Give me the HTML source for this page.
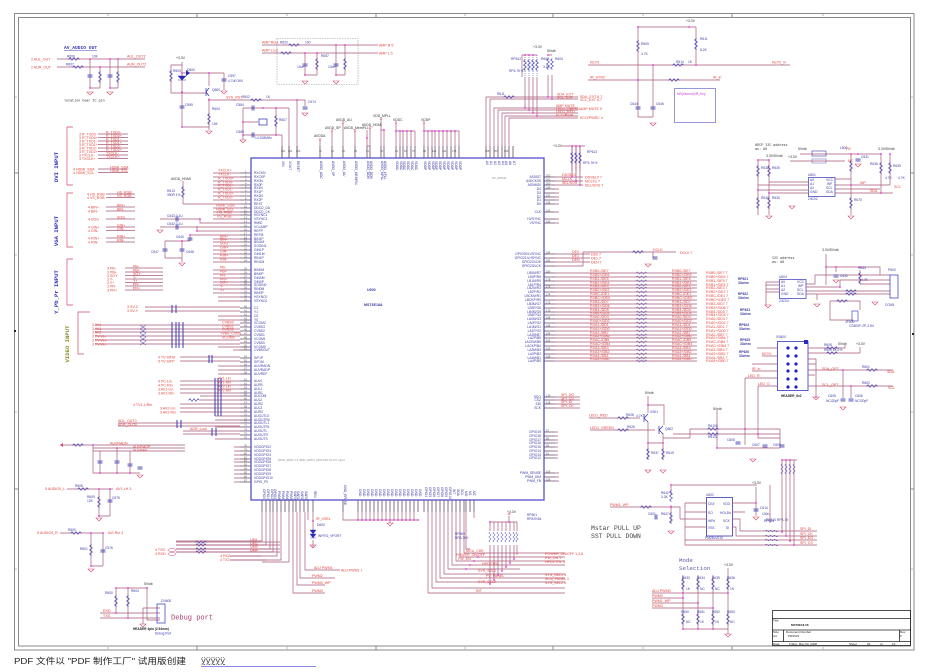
<!DOCTYPE html>
<html><head><meta charset="utf-8">
<style>
html,body{margin:0;padding:0;background:#fff;width:950px;height:672px;overflow:hidden}
svg{display:block}
text{font-family:"Liberation Sans",sans-serif}
.w{stroke:#a8587a;fill:none;stroke-width:.7}
.pn{stroke:#6a4a6a;fill:none;stroke-width:.8}
.bx{stroke:#4c4cc4;fill:none;stroke-width:.9}
.r{fill:#e4443c;font-size:3.6px}
.t{fill:#3a3aa8;font-size:3.3px}
.k{fill:#333;font-size:3.4px}
.n{fill:#555;font-size:2.6px}
.dt{stroke:#e030e0;stroke-width:1.8;stroke-linecap:round;fill:none}
.g{stroke:#d24a6a;fill:none;stroke-width:.6}
.m{font-family:"Liberation Mono",monospace}
</style></head><body>
<svg width="950" height="672" viewBox="0 0 950 672" xmlns="http://www.w3.org/2000/svg">
<defs>
<path id="rh" d="M0,0h1l1,-1.4l2,2.8l2,-2.8l2,2.8l2,-2.8l1,1.4h1" fill="none" stroke="#3a3ab0" stroke-width=".6"/>
<path id="rv" d="M0,0v1l-1.4,1l2.8,2l-2.8,2l2.8,2l-2.8,2l1.4,1v1" fill="none" stroke="#3a3ab0" stroke-width=".6"/>
<path id="gd" d="M-3,0h6l-3,3z" fill="none" stroke="#d24a6a" stroke-width=".6"/>
<path id="cv" d="M-2.5,-.9h5M-2.5,.9h5" fill="none" stroke="#3a3ab0" stroke-width=".9"/>
<path id="ch" d="M-.9,-2.5v5M.9,-2.5v5" fill="none" stroke="#3a3ab0" stroke-width=".9"/>
</defs>

<!-- frame -->
<g fill="none" stroke="#8a8a8a" stroke-width="1">
<rect x="14.5" y="13.5" width="899.5" height="636.5"/>
<rect x="18.5" y="17.5" width="892" height="628.5"/>
<path d="M197,13v4M376,13v4M553,13v4M732,13v4M197,646v4M376,646v4M553,646v4M732,646v4M14,173h4M14,489h4M910,173h4M910,489h4"/>
<path d="M108,14v2M287,14v2M465,14v2M643,14v2M823,14v2M108,647v2M287,647v2M465,647v2M643,647v2M823,647v2M15,97h2M15,255h2M15,412h2M15,569h2M911,97h2M911,255h2M911,412h2M911,569h2" stroke-width=".6"/>
</g>
<rect x="14" y="330" width="2" height="2" fill="#222"/><rect x="912" y="333" width="2" height="2" fill="#222"/>

<!-- ===== AV AUDIO OUT ===== -->
<text x="64" y="49" fill="#3434b4" font-size="4.6" font-weight="bold" class="m" text-decoration="underline">AV_AUDIO OUT</text>
<text class="r" x="31" y="60.5">2 AUL_OUT</text><text class="r" x="31" y="68.5">2 AUR_OUT</text>
<path class="w" d="M57,59H145M57,67H145M90,59V88M110,59V88M100,67V88M118,59V88M90,88H100M110,88H118"/>
<use href="#rh" x="68" y="59"/><use href="#rh" x="72" y="67"/>
<use href="#cv" x="90" y="76"/><use href="#cv" x="110" y="76"/>
<use href="#rv" x="100" y="71"/><use href="#rv" x="118" y="71"/>
<use href="#gd" x="90" y="92"/><use href="#gd" x="110" y="92"/>
<path class="dt" d="M90,59h0M110,59h0M118,59h0M100,67h0M90,88h0M110,88h0"/>
<text class="r" x="127" y="57.5">AUL_OUT2</text><text class="r" x="127" y="65.5">AUR_OUT2</text>
<text class="t" x="67" y="57.5">R606</text><text class="t" x="66" y="65.5">R607</text><text class="t" x="92" y="57.5">10K</text>
<text class="k m" x="64" y="101.5">location near IC pin</text>

<!-- ===== reset circuit ===== -->
<text class="k" x="176" y="59">+3.3V</text>
<path class="w" d="M182,62V127H209M171,65H182M171,65V93H206M182,73H224M209,73V86M209,98V130M224,73V90M209,100H305V106M297,100V158M182,90V100"/>
<use href="#rv" x="171" y="70"/><use href="#rv" x="209" y="113"/>
<path d="M178,76h8l-4,4zM178,80h8" fill="#2a2ab0" stroke="#2a2ab0" stroke-width=".5"/>
<path d="M186,70l4,3l-4,3z" fill="#2a2ab0"/>
<path d="M206,88v8M206,92l3,-4M206,92l3,4" stroke="#2a2ab0" stroke-width=".7" fill="none"/>
<use href="#cv" x="182" y="107"/><use href="#cv" x="224" y="80"/><use href="#cv" x="305" y="108"/>
<use href="#gd" x="209" y="131"/><use href="#gd" x="224" y="91"/><use href="#gd" x="305" y="113"/>
<use href="#rh" x="250" y="100"/>
<path class="dt" d="M182,73h0M209,73h0M182,92h0M209,100h0M297,100h0M182,127h0"/>
<text class="r" x="226" y="98.5">SYS_RST</text><text class="t" x="242" y="98">R602</text><text class="t" x="266" y="98">1K</text>
<text class="t" x="187" y="71">D600</text><text class="t" x="228" y="77">C597</text><text class="t" x="228" y="82">4.7uF/16V</text>
<text class="t" x="173" y="72">R603</text><text class="t" x="185" y="106">C599</text><text class="t" x="212" y="110">R604</text><text class="t" x="212" y="125">10K</text>
<text class="t" x="212" y="91">Q600</text><text class="t" x="308" y="103">C574</text>
<!-- crystal -->
<path class="w" d="M243,108V140M243,108H276M243,135H282M276,108V135M282,135V158M289,108V158M276,108H289M243,122H258"/>
<use href="#ch" x="253" y="108"/><use href="#ch" x="253" y="135"/>
<rect x="259" y="119" width="8" height="6" fill="none" stroke="#2a2ab0" stroke-width=".7"/>
<use href="#rv" x="276" y="115"/><use href="#gd" x="243" y="140"/>
<path class="dt" d="M243,122h0M263,108h0M276,108h0M276,135h0M243,135h0"/>
<text class="t" x="236" y="106">C584</text><text class="t" x="236" y="133">C585</text><text class="t" x="279" y="121">R607</text><text class="t" x="255" y="139">14.318MHz</text>

<!-- ===== AMP dashed box ===== -->
<rect x="277" y="38.5" width="81" height="46" fill="none" stroke="#999" stroke-width=".6" stroke-dasharray="1.5,1"/>
<path class="w" d="M262,45H378M262,53H378M305,53V75M336,45V75M317,53V75M345,45V75M305,75H317M336,75H345"/>
<use href="#rh" x="288" y="45"/><use href="#rh" x="280" y="53"/>
<use href="#cv" x="305" y="65"/><use href="#cv" x="336" y="65"/><use href="#rv" x="317" y="58"/><use href="#rv" x="345" y="58"/>
<use href="#gd" x="305" y="81"/><use href="#gd" x="336" y="81"/>
<path class="dt" d="M305,53h0M317,53h0M336,45h0M345,45h0M305,75h0M336,75h0"/>
<text class="r" x="262" y="43.5">AMP Rout</text><text class="r" x="262" y="51.5">AMP Lout</text>
<text class="r" x="379" y="46.5">AMP R 5</text><text class="r" x="379" y="54.5">AMP L 5</text>
<text class="t" x="280" y="43.5">R620</text><text class="t" x="305" y="43.5">100</text><text class="t" x="321" y="57">R657</text><text class="t" x="297" y="68">10uF</text><text class="t" x="328" y="68">10uF</text>

<!-- ===== input brackets + vertical titles ===== -->
<path fill="none" stroke="#d24a6a" stroke-width=".7" d="M73,127H67V185H73M73,193H67V247H73M73,259H67V305H73M90,312H78V354H84"/>
<text transform="translate(58,167) rotate(-90)" text-anchor="middle" font-size="5.6" font-weight="bold" fill="#3434b4" class="m">DVI INPUT</text>
<text transform="translate(58,231) rotate(-90)" text-anchor="middle" font-size="5.6" font-weight="bold" fill="#3434b4" class="m">VGA INPUT</text>
<text transform="translate(58,292) rotate(-90)" text-anchor="middle" font-size="5.6" font-weight="bold" fill="#3434b4" class="m">Y_Pb_Pr INPUT</text>
<text transform="translate(69,344) rotate(-90)" text-anchor="middle" font-size="5.6" font-weight="bold" fill="#8c8c28" class="m">VIDEO INPUT</text>

<!-- DVI lines -->
<path class="w" d="M98,134H128M98,137.5H128M98,141H128M98,144.5H128M98,148H128M98,151.5H128M98,155H128M98,158.5H128M98,169H128M98,172.5H128"/>
<g class="r"><text x="79" y="135.5">3 R_TXD0-</text><text x="79" y="139">3 R_TXD0+</text><text x="79" y="142.5">3 R_TXD1-</text><text x="79" y="146">3 R_TXD1+</text><text x="79" y="149.5">3 R_TXD2-</text><text x="79" y="153">3 R_TXD2+</text><text x="79" y="156.5">3 TXCLK-</text><text x="79" y="160">3 TXCLK+</text><text x="73" y="170.5">4 HDMI_SDA</text><text x="73" y="174">4 HDMI_SCL</text>
<text x="106" y="133.5">R_TXD0-</text><text x="106" y="137">R_TXD0+</text><text x="106" y="140.5">R_TXD1-</text><text x="106" y="144">R_TXD1+</text><text x="106" y="147.5">R_TXD2-</text><text x="106" y="151">R_TXD2+</text><text x="106" y="154.5">TXCLK-</text><text x="106" y="158">TXCLK+</text><text x="110" y="168.5">HDMI_SDA</text><text x="110" y="172">HDMI_SCL</text></g>
<!-- VGA lines -->
<path class="w" d="M106,194H135M106,197.5H135M106,207H135M106,211H135M106,219H135M106,227H135M106,230.5H135M106,238H135M106,242H135"/>
<g class="r"><text x="87" y="195.5">4 HS_RGB</text><text x="87" y="199">4 VS_RGB</text><text x="88" y="208.5">4 BIN+</text><text x="88" y="212.5">4 BIN-</text><text x="88" y="220.5">4 SOG</text><text x="88" y="228.5">4 GIN+</text><text x="88" y="232">4 GIN-</text><text x="88" y="239.5">4 RIN+</text><text x="88" y="243.5">4 RIN-</text>
<text x="117" y="193.5">HS_RGB</text><text x="117" y="197">VS_RGB</text><text x="117" y="206.5">BIN+</text><text x="117" y="210.5">BIN-</text><text x="117" y="218.5">SOG</text><text x="117" y="226.5">GIN+</text><text x="117" y="230">GIN-</text><text x="117" y="237.5">RIN+</text><text x="117" y="241.5">RIN-</text></g>
<!-- YPbPr lines -->
<path class="w" d="M125,268H163M125,272H163M125,275.5H163M125,279H163M125,282.5H163M125,286H163M125,290H163"/>
<g class="r"><text x="107" y="269.5">3 PB-</text><text x="107" y="273.5">3 PB+</text><text x="107" y="277">3 SOY</text><text x="107" y="280.5">3 Y-</text><text x="107" y="284">3 Y+</text><text x="107" y="287.5">3 PR-</text><text x="107" y="291.5">3 PR+</text>
<text x="133" y="267.5">PB-</text><text x="133" y="271.5">PB+</text><text x="133" y="275">SOY</text><text x="133" y="278.5">Y-</text><text x="133" y="282">Y+</text><text x="133" y="285.5">PR-</text><text x="133" y="289.5">PR+</text></g>

<!-- ===== Main IC ===== -->
<rect x="251" y="158" width="293" height="342" fill="none" stroke="#5050c8" stroke-width="1.3"/>
<text x="367" y="291" font-size="3.6" font-weight="bold" fill="#3a3aa8">U600</text>
<text x="364" y="306" font-size="3.6" font-weight="bold" fill="#3a3aa8">MST6E18A</text>
<text x="278" y="461" font-size="3" fill="#888">GPIO_DDC-Y1,VDD_GPIO_DDC=5V for IIC input</text>

<!-- left pin stubs -->
<path class="pn" d="M240,173h11M240,177h11M240,181h11M240,185h11M240,188h11M240,192h11M240,196h11M240,200h11M240,204h11M240,208h11M240,212h11M240,215h11M240,219h11M240,223h11M240,227h11M240,231h11M240,235h11M240,239h11M240,242h11M240,246h11M240,250h11M240,254h11M240,258h11M240,262h11M240,270h11M240,274h11M240,278h11M240,282h11M240,285h11M240,289h11M240,293h11M240,297h11M240,301h11M240,308h11M240,312h11M240,316h11M240,320h11M240,323h11M240,327h11M240,331h11M240,335h11M240,339h11M240,343h11M240,347h11M240,350h11M240,358h11M240,362h11M240,366h11M240,370h11M240,374h11M240,381h11M240,385h11M240,389h11M240,393h11M240,396h11M240,400h11M240,404h11M240,408h11M240,412h11M240,416h11M240,420h11M240,423h11M240,427h11M240,431h11M240,435h11M240,439h11M240,447h11M240,451h11M240,455h11M240,459h11M240,462h11M240,466h11M240,470h11M240,474h11M240,478h11M240,482h11"/>
<text class="n"><tspan x="245" y="172.3">1</tspan><tspan x="245" y="176.3">2</tspan><tspan x="245" y="180.3">3</tspan><tspan x="245" y="184.3">4</tspan><tspan x="245" y="187.3">5</tspan><tspan x="245" y="191.3">6</tspan><tspan x="245" y="195.3">7</tspan><tspan x="245" y="199.3">8</tspan><tspan x="245" y="203.3">9</tspan><tspan x="244" y="207.3">10</tspan><tspan x="244" y="211.3">11</tspan><tspan x="244" y="214.3">12</tspan><tspan x="244" y="218.3">13</tspan><tspan x="244" y="222.3">14</tspan><tspan x="244" y="226.3">15</tspan><tspan x="244" y="230.3">16</tspan><tspan x="244" y="234.3">17</tspan><tspan x="244" y="238.3">18</tspan><tspan x="244" y="241.3">19</tspan><tspan x="244" y="245.3">20</tspan><tspan x="244" y="249.3">21</tspan><tspan x="244" y="253.3">22</tspan><tspan x="244" y="257.3">23</tspan><tspan x="244" y="261.3">24</tspan><tspan x="244" y="269.3">25</tspan><tspan x="244" y="273.3">26</tspan><tspan x="244" y="277.3">27</tspan><tspan x="244" y="281.3">28</tspan><tspan x="244" y="284.3">29</tspan><tspan x="244" y="288.3">30</tspan><tspan x="244" y="292.3">31</tspan><tspan x="244" y="296.3">32</tspan><tspan x="244" y="300.3">33</tspan><tspan x="244" y="307.3">40</tspan><tspan x="244" y="311.3">41</tspan><tspan x="244" y="315.3">42</tspan><tspan x="244" y="319.3">43</tspan><tspan x="244" y="322.3">44</tspan><tspan x="244" y="326.3">45</tspan><tspan x="244" y="330.3">46</tspan><tspan x="244" y="334.3">47</tspan><tspan x="244" y="338.3">48</tspan><tspan x="244" y="342.3">49</tspan><tspan x="244" y="346.3">50</tspan><tspan x="244" y="349.3">51</tspan><tspan x="244" y="357.3">54</tspan><tspan x="244" y="361.3">55</tspan><tspan x="244" y="365.3">56</tspan><tspan x="244" y="369.3">57</tspan><tspan x="244" y="373.3">58</tspan><tspan x="244" y="380.3">61</tspan><tspan x="244" y="384.3">62</tspan><tspan x="244" y="388.3">63</tspan><tspan x="244" y="392.3">64</tspan><tspan x="244" y="395.3">65</tspan><tspan x="244" y="399.3">66</tspan><tspan x="244" y="403.3">67</tspan><tspan x="244" y="407.3">68</tspan><tspan x="244" y="411.3">69</tspan><tspan x="244" y="415.3">70</tspan><tspan x="244" y="419.3">71</tspan><tspan x="244" y="422.3">72</tspan><tspan x="244" y="426.3">73</tspan><tspan x="244" y="430.3">74</tspan><tspan x="244" y="434.3">75</tspan><tspan x="244" y="438.3">76</tspan><tspan x="244" y="446.3">78</tspan><tspan x="244" y="450.3">79</tspan><tspan x="244" y="454.3">80</tspan><tspan x="244" y="458.3">81</tspan><tspan x="244" y="461.3">82</tspan><tspan x="244" y="465.3">83</tspan><tspan x="244" y="469.3">84</tspan><tspan x="244" y="473.3">85</tspan><tspan x="244" y="477.3">86</tspan><tspan x="244" y="481.3">87</tspan></text>
<text class="t"><tspan x="254" y="174.2">RXCKN</tspan><tspan x="254" y="178.2">RXCKP</tspan><tspan x="254" y="182.2">RX0N</tspan><tspan x="254" y="186.2">RX0P</tspan><tspan x="254" y="189.2">RX1N</tspan><tspan x="254" y="193.2">RX1P</tspan><tspan x="254" y="197.2">RX2N</tspan><tspan x="254" y="201.2">RX2P</tspan><tspan x="254" y="205.2">REXT</tspan><tspan x="254" y="209.2">DDCD_DA</tspan><tspan x="254" y="213.2">DDCD_CK</tspan><tspan x="254" y="216.2">HSYNC1</tspan><tspan x="254" y="220.2">VSYNC1</tspan><tspan x="254" y="224.2">RMID</tspan><tspan x="254" y="228.2">VCLAMP</tspan><tspan x="254" y="232.2">REFP</tspan><tspan x="254" y="236.2">REFM</tspan><tspan x="254" y="240.2">BIN1P</tspan><tspan x="254" y="243.2">BIN1M</tspan><tspan x="254" y="247.2">SOGIN1</tspan><tspan x="254" y="251.2">GIN1P</tspan><tspan x="254" y="255.2">GIN1M</tspan><tspan x="254" y="259.2">RIN1P</tspan><tspan x="254" y="263.2">RIN1M</tspan><tspan x="254" y="271.2">BIN0M</tspan><tspan x="254" y="275.2">BIN0P</tspan><tspan x="254" y="279.2">GIN0M</tspan><tspan x="254" y="283.2">GIN0P</tspan><tspan x="254" y="286.2">SOGIN0</tspan><tspan x="254" y="290.2">RIN0M</tspan><tspan x="254" y="294.2">RIN0P</tspan><tspan x="254" y="298.2">HSYNC0</tspan><tspan x="254" y="302.2">VSYNC0</tspan><tspan x="254" y="309.2">C1</tspan><tspan x="254" y="313.2">Y1</tspan><tspan x="254" y="317.2">C0</tspan><tspan x="254" y="321.2">Y0</tspan><tspan x="254" y="324.2">VCOM2</tspan><tspan x="254" y="328.2">CVBS3</tspan><tspan x="254" y="332.2">CVBS2</tspan><tspan x="254" y="336.2">CVBS1</tspan><tspan x="254" y="340.2">VCOM1</tspan><tspan x="254" y="344.2">CVBS0</tspan><tspan x="254" y="348.2">VCOM0</tspan><tspan x="254" y="351.2">CVBSOUT</tspan><tspan x="254" y="359.2">SIF1P</tspan><tspan x="254" y="363.2">SIF1M</tspan><tspan x="254" y="367.2">AUVRADN</tspan><tspan x="254" y="371.2">AUVRADP</tspan><tspan x="254" y="375.2">AUVREF</tspan><tspan x="254" y="382.2">AUL0</tspan><tspan x="254" y="386.2">AUR0</tspan><tspan x="254" y="390.2">AUL1</tspan><tspan x="254" y="394.2">AUR1</tspan><tspan x="254" y="397.2">AUCOM</tspan><tspan x="254" y="401.2">AUL2</tspan><tspan x="254" y="405.2">AUR2</tspan><tspan x="254" y="409.2">AUL3</tspan><tspan x="254" y="413.2">AUR3</tspan><tspan x="254" y="417.2">AUOUTL0</tspan><tspan x="254" y="421.2">AUOUTR0</tspan><tspan x="254" y="424.2">AUOUTL1</tspan><tspan x="254" y="428.2">AUOUTR1</tspan><tspan x="254" y="432.2">AUOUTL</tspan><tspan x="254" y="436.2">AUOUTR</tspan><tspan x="254" y="440.2">AUOUTS</tspan><tspan x="254" y="448.2">VDDGPIO2</tspan><tspan x="254" y="452.2">VDDGPIO3</tspan><tspan x="254" y="456.2">VDDGPIO4</tspan><tspan x="254" y="460.2">VDDGPIO5</tspan><tspan x="254" y="463.2">VDDGPIO6</tspan><tspan x="254" y="467.2">VDDGPIO7</tspan><tspan x="254" y="471.2">VDDGPIO8</tspan><tspan x="254" y="475.2">VDDGPIO9</tspan><tspan x="254" y="479.2">VDDGPIO10</tspan><tspan x="254" y="483.2">GPIO_P0</tspan></text>

<!-- left wires -->
<path class="w" d="M213,173H240M213,177H240M213,181H240M213,185H240M213,188H240M213,192H240M213,196H240M213,200H240M183,204H240M183,204V181M213,208H240M213,212H240M213,215H240M213,219H240M160,219H200V223H240M160,227H240M197,231H240M190,235H240M190,235V241M197,231V226M165,241H190M165,241V258M182,241V262M165,258H182M213,239H240M213,242H240M213,246H240M213,250H240M213,254H240M213,258H240M213,262H240
M213,270H240M213,274H240M213,278H240M213,282H240M213,285H240M213,289H240M213,293H240M218,297H240M218,301H240
M145,307H240M145,311H240M218,316H240M218,320H240M95,325H240M95,329H240M95,332H240M95,336H240M95,340H240M95,344H240M218,347H240M233,350H240
M180,357H240M180,361H240M218,366H240M218,370H240M218,374H240
M180,381H240M180,385H240M180,389H240M180,393H240M200,396H240M180,404H240M180,408H240M180,412H240M200,400H240M215,416H240M118,423H240M118,426H240M183,431H240M183,434H240M215,420H240M215,427H240M215,439H240"/>
<path class="w" d="M234,447h6M234,451h6M234,455h6M234,459h6M234,462h6M234,466h6M234,470h6M234,474h6M234,478h6M234,482h6"/>
<use href="#rv" x="183" y="186"/><text class="k" x="171" y="180">AVDD_HDMI</text><text class="t" x="167" y="192">R613</text><text class="t" x="167" y="196">390R 1%</text>
<use href="#ch" x="177" y="219"/><use href="#ch" x="177" y="227"/><use href="#cv" x="190" y="239"/><use href="#cv" x="165" y="250"/><use href="#cv" x="182" y="250"/>
<use href="#gd" x="160" y="230"/><use href="#gd" x="182" y="263"/>
<text class="t" x="167" y="217">C643 0.1U</text><text class="t" x="167" y="225">C642 0.1U</text><text class="t" x="176" y="238">C640</text><text class="t" x="151" y="253">C647</text><text class="t" x="186" y="253">C648</text>
<path class="dt" d="M200,219h0M197,231h0M190,235h0M182,241h0"/>
<g class="r"><text x="218" y="171.5">TXCLK+</text><text x="218" y="175.5">TXCLK-</text><text x="218" y="179.5">R_TXD0+</text><text x="218" y="183.5">R_TXD0-</text><text x="218" y="186.5">R_TXD1+</text><text x="218" y="190.5">R_TXD1-</text><text x="218" y="194.5">R_TXD2+</text><text x="218" y="198.5">R_TXD2-</text><text x="216" y="206.5">HDMI_SDA</text><text x="216" y="210.5">HDMI_SCL</text><text x="217" y="213.5">HS_RGB</text><text x="217" y="217.5">VS_RGB</text><text x="220" y="237.5">BIN+</text><text x="220" y="240.5">BIN-</text><text x="220" y="244.5">SOG</text><text x="220" y="248.5">GIN+</text><text x="220" y="252.5">GIN-</text><text x="220" y="256.5">RIN+</text><text x="220" y="260.5">RIN-</text>
<text x="220" y="268.5">PB-</text><text x="220" y="272.5">PB+</text><text x="220" y="276.5">PR-</text><text x="220" y="280.5">PR+</text><text x="220" y="283.5">SOY</text><text x="220" y="287.5">Y-</text><text x="220" y="291.5">Y+</text>
<text x="222" y="323.5">CVBS0</text><text x="222" y="327.5">CVBS1</text><text x="222" y="330.5">CVBS2</text><text x="220" y="334.5">TVBS_CVBS</text><text x="222" y="338.5">VCOM0</text>
<text x="218" y="379.5">AV1-Lin</text><text x="218" y="383.5">AV1-Rin</text><text x="218" y="387.5">AV2-Lin</text><text x="218" y="391.5">AV2-Rin</text></g>
<!-- video / sif / audio passives -->
<g class="r"><text x="127" y="308">3 SV-C</text><text x="127" y="312">3 SV-Y</text><text x="92" y="326">3 AV1</text><text x="92" y="330">3 AV1-</text><text x="92" y="333.5">3 AV2</text><text x="92" y="337.5">3 TV-Vin</text><text x="92" y="341.5">3 TV-Vin-</text><text x="92" y="345.5">3 TV-Vin</text>
<text x="158" y="358.5">4 TV-SIFM</text><text x="158" y="362.5">5 TV-SIFP</text><text x="158" y="382.5">4 PC-Lin</text><text x="158" y="386.5">4 PC-Rin</text><text x="158" y="390.5">3 AV1-Lin</text><text x="158" y="394.5">3 AV1-Rin</text><text x="133" y="406">4 TV1-L/Rin</text><text x="160" y="409.5">3 AV2-Lin</text><text x="160" y="413.5">3 AV2-Rin</text>
<text x="118" y="422">ADL_OUT0</text><text x="118" y="426">ADR_OUT0</text><text x="190" y="430">ADR_Lout</text><text x="110" y="444.5">AUVRADN</text><text x="133" y="448">AUVRADP</text><text x="133" y="451.5">AUVREF</text></g>
<path d="M172,305v8M176,305v8M172,322v26M176,322v26M179,322v26M183,322v26M209,355v8M212,355v8M215,378v38M218,378v38M221,378v38M177,420v8M181,420v8M212,428v8M216,428v8" stroke="#3a3ab0" stroke-width="1" fill="none"/>
<path d="M140,325l6,4l-6,4l6,4l-6,4l6,4M146,325l-6,4l6,4l-6,4l6,4l-6,4" stroke="#3a3ab0" stroke-width=".5" fill="none"/>
<use href="#rh" x="188" y="400"/>
<path class="w" d="M60,445H93M93,445H185M93,448H185M93,451H185M93,445V473H140M100,451V473M117,448V473M130,451V473"/>
<path d="M60,445l3,-2v4z" fill="#d24a6a"/>
<use href="#rh" x="72" y="445"/><use href="#cv" x="100" y="462"/><use href="#cv" x="117" y="462"/><use href="#cv" x="130" y="465"/><use href="#cv" x="140" y="468"/><use href="#gd" x="140" y="475"/>
<path class="dt" d="M93,445h0M117,448h0M100,473h0M117,473h0M130,473h0"/>
<!-- AUDIO0 L / R -->
<text class="r" x="45" y="490">5 AUDIO0_L</text><text class="r" x="116" y="490">AV1-LH 3</text>
<path class="w" d="M67,489H113M99,489V516M110,489V516M99,516H110"/><use href="#rh" x="77" y="489"/><use href="#rv" x="99" y="496"/><use href="#cv" x="110" y="501"/><use href="#gd" x="99" y="518"/>
<path class="dt" d="M99,489h0M110,489h0M99,516h0"/>
<text class="r" x="37" y="534">5 AUDIO0_R</text><text class="r" x="108" y="534">AVI-Rin 3</text>
<path class="w" d="M60,533H103M91,533V566M103,533V566M91,566H103"/><use href="#rh" x="70" y="533"/><use href="#rv" x="91" y="544"/><use href="#cv" x="103" y="551"/><use href="#gd" x="91" y="569"/>
<path class="dt" d="M91,533h0M103,533h0M91,566h0"/>
<g class="t"><text x="75" y="487">R605</text><text x="87" y="498">R609</text><text x="87" y="502">12K</text><text x="112" y="499">C575</text><text x="68" y="531">R600</text><text x="80" y="550">R601</text><text x="105" y="549">C576</text></g>
<!-- TXD/RXD -->
<text class="r" x="155" y="551">4 TXD</text><text class="r" x="155" y="555">4 RXD</text>
<ellipse cx="172" cy="550" rx="4" ry="1.5" fill="none" stroke="#d24a6a" stroke-width=".5"/><ellipse cx="172" cy="554" rx="4" ry="1.5" fill="none" stroke="#d24a6a" stroke-width=".5"/>
<path class="w" d="M176,542H280M176,545H280M176,549H280M176,552H280M230,556H262M230,560H266"/>
<use href="#rh" x="195" y="542"/><use href="#rh" x="195" y="545"/><use href="#rh" x="195" y="549"/><use href="#rh" x="195" y="552"/>
<g class="r"><text x="250" y="541">UM1</text><text x="250" y="544.5">UM2</text><text x="250" y="548">UM3</text><text x="250" y="551.5">UM4</text><text x="220" y="557">4 RX2</text><text x="220" y="561">4 TX2</text></g>
<!-- Debug port -->
<text class="k" x="144" y="585">5Vstb</text>
<path class="w" d="M147,587V620H160M116,588H147M116,588V613M128,588V618M100,613H160M100,618H160M143,608H160M143,608V624"/>
<use href="#rv" x="116" y="595"/><use href="#rv" x="128" y="595"/><use href="#gd" x="143" y="624"/>
<rect x="157" y="604" width="8" height="19" fill="none" stroke="#4c4cc4" stroke-width=".8"/>
<path class="dt" d="M116,588h0M128,588h0M147,588h0M116,613h0M128,618h0"/>
<text class="r" x="103" y="612">RXD</text><text class="r" x="103" y="617">TXD</text>
<text class="t" x="105" y="594">R600</text><text class="t" x="131" y="592">R604</text><text class="t" x="161" y="602">CN600</text>
<text x="133" y="630" font-size="3.2" font-weight="bold" fill="#222">HEADER 4pin (2.54mm)</text><text x="155" y="634.5" font-size="3.2" fill="#3434b4">Debug Port</text>
<text x="171" y="619.5" font-size="7" fill="#a84070" class="m">Debug port</text>

<!-- top pins -->
<path class="pn" d="M282,146V158M289,146V158M297,146V158M320,146V158M332,146V158M343,146V158M355,146V158M367,146V158M370,146V158M381,146V158M384,146V158M396,146V158M400,146V158M403,146V158M407,146V158M411,146V158M415,146V158M424,146V158M428,146V158M432,146V158M435,146V158M439,146V158M443,146V158M447,146V158M451,146V158M455,146V158M459,146V158M486,146V158M490,146V158M494,146V158M498,146V158M502,146V158M505,146V158M509,146V158M513,146V158"/>
<path class="w" d="M320,140V146M332,131V146M343,123V146M355,131V146M367,138V146H370M367,130V138M370,128V146M381,119V146M384,130V146M381,130H384M396,131V146M400,131V146M403,131V146M407,131V146M411,131V146M415,131V146M396,123V131H415M424,131V146M428,131V146M432,131V146M435,131V146M439,131V146M443,131V146M447,131V146M451,131V146M455,131V146M459,131V146M424,123V131H459"/>
<path d="M320,139.5m-1,0a1,1 0 1,0 2,0a1,1 0 1,0 -2,0M332,130.5m-1,0a1,1 0 1,0 2,0a1,1 0 1,0 -2,0M343,122.5m-1,0a1,1 0 1,0 2,0a1,1 0 1,0 -2,0M355,130.5m-1,0a1,1 0 1,0 2,0a1,1 0 1,0 -2,0M370,127.5m-1,0a1,1 0 1,0 2,0a1,1 0 1,0 -2,0M381,118.5m-1,0a1,1 0 1,0 2,0a1,1 0 1,0 -2,0M396,122.5m-1,0a1,1 0 1,0 2,0a1,1 0 1,0 -2,0M424,122.5m-1,0a1,1 0 1,0 2,0a1,1 0 1,0 -2,0" fill="none" stroke="#d24a6a" stroke-width=".5"/>
<path class="dt" d="M396,131h0M400,131h0M403,131h0M407,131h0M411,131h0M424,131h0M428,131h0M432,131h0M435,131h0M439,131h0M443,131h0M447,131h0M451,131h0M455,131h0M367,138h0M384,130h0"/>
<g class="k"><text x="314" y="137">AVDDA</text><text x="325" y="129">AVDD_SP</text><text x="336" y="121">AVDD_AU</text><text x="344" y="129">AVDD_MemPLL</text><text x="362" y="126">AVDD_HDMI</text><text x="373" y="117">VDD_MPLL</text><text x="393" y="121">VDDC</text><text x="421" y="121">VDDP</text></g>
<g class="t">
<text transform="translate(282,161) rotate(90)">XIN</text><text transform="translate(289,161) rotate(90)">XOUT</text><text transform="translate(297,161) rotate(90)">RESET</text><text transform="translate(320,161) rotate(90)">AVDD_ADC</text><text transform="translate(332,161) rotate(90)">AVDD_SP</text><text transform="translate(343,161) rotate(90)">AVDD_AU</text><text transform="translate(355,161) rotate(90)">AVDD_MEMPLL</text><text transform="translate(367,161) rotate(90)">AVDD_DDR</text><text transform="translate(370,161) rotate(90)">AVDD_DDR</text><text transform="translate(381,161) rotate(90)">AVDD_MPLL</text><text transform="translate(384,161) rotate(90)">AVDD_LPLL</text>
<text transform="translate(396,161) rotate(90)">VDDC</text><text transform="translate(400,161) rotate(90)">VDDC</text><text transform="translate(403,161) rotate(90)">VDDC</text><text transform="translate(407,161) rotate(90)">VDDC</text><text transform="translate(411,161) rotate(90)">VDDC</text><text transform="translate(415,161) rotate(90)">VDDC</text>
<text transform="translate(424,161) rotate(90)">VDDP</text><text transform="translate(428,161) rotate(90)">VDDP</text><text transform="translate(432,161) rotate(90)">VDDP</text><text transform="translate(435,161) rotate(90)">VDDP</text><text transform="translate(439,161) rotate(90)">VDDP</text><text transform="translate(443,161) rotate(90)">VDDP</text><text transform="translate(447,161) rotate(90)">VDDP</text><text transform="translate(451,161) rotate(90)">VDDP</text><text transform="translate(455,161) rotate(90)">VDDP</text><text transform="translate(459,161) rotate(90)">VDDP</text>
<text transform="translate(486,161) rotate(90)">A0</text><text transform="translate(490,161) rotate(90)">A1</text><text transform="translate(494,161) rotate(90)">A2</text><text transform="translate(498,161) rotate(90)">A3</text><text transform="translate(502,161) rotate(90)">A4</text><text transform="translate(505,161) rotate(90)">A5</text><text transform="translate(509,161) rotate(90)">A6</text><text transform="translate(513,161) rotate(90)">A7</text></g>
<text class="n"><tspan x="281" y="152">201</tspan><tspan x="288" y="152">202</tspan><tspan x="296" y="152">203</tspan><tspan x="319" y="152">11</tspan><tspan x="331" y="152">12</tspan><tspan x="342" y="152">10</tspan><tspan x="354" y="152">96</tspan><tspan x="366" y="152">21</tspan><tspan x="380" y="152">32</tspan><tspan x="395" y="152">44</tspan><tspan x="404" y="152">53</tspan><tspan x="412" y="152">79</tspan><tspan x="423" y="152">98</tspan><tspan x="432" y="152">120</tspan><tspan x="442" y="152">141</tspan><tspan x="452" y="152">178</tspan><tspan x="485" y="152">205</tspan><tspan x="494" y="152">207</tspan><tspan x="504" y="152">209</tspan></text>

<!-- top-right pin routing -->
<path class="w" d="M486,146V97H578M490,146V99H578M494,146V108H578M498,146V110H578M502,146V113H578M505,146V116H578M509,146V118H578M525,108V77M529,110V77M533,113V77M537,116V77M548,97V75M552,99V75M522,55V77M522,55H537M548,55H552"/>
<path d="M525,55v22M529,55v22M533,55v22M537,55v22" stroke="#3a3ab0" stroke-width=".5" fill="none" stroke-dasharray="1,1"/>
<use href="#rv" x="525" y="59"/><use href="#rv" x="529" y="59"/><use href="#rv" x="533" y="59"/><use href="#rv" x="537" y="59"/><use href="#rv" x="548" y="58"/><use href="#rv" x="552" y="58"/>
<use href="#rh" x="503" y="97"/>
<path class="dt" d="M525,108h0M529,110h0M533,113h0M537,116h0M548,97h0M552,99h0M525,55h0M529,55h0M533,55h0M548,55h0"/>
<text class="k" x="533" y="48">+3.3V</text><text class="k" x="547" y="52">5Vstb</text>
<g class="t"><text x="511" y="60">RP612</text><text x="509" y="72">RP4.7K*4</text><text x="541" y="60">R603</text><text x="555" y="60">R604</text><text x="543" y="68">3.3K</text><text x="497" y="95">R611</text></g>
<g class="r"><text x="557" y="95.5">SDA_EXT</text><text x="557" y="98.5">SCL_EXT</text><text x="556" y="107">AMP MUTE</text><text x="556" y="110">LED1_GREEN</text><text x="556" y="113">LED1_RED</text><text x="556" y="116.5">ECO/PWR</text>
<text x="580" y="98">SDA_EXT 6,7</text><text x="580" y="101">SCL_EXT 6,7</text><text x="580" y="110">AMP MUTE 5</text><text x="580" y="119">ECO/PWRC 4</text></g>

<!-- KEY / IR -->
<text class="k" x="686" y="22">+3.3V</text>
<path class="w" d="M638,27H696M638,27V117H653M696,27V65M588,65H790M588,80H720M653,65V117"/>
<use href="#rv" x="638" y="40"/><use href="#rv" x="696" y="38"/><use href="#rh" x="672" y="65"/><use href="#rh" x="668" y="80"/>
<use href="#cv" x="638" y="108"/><use href="#cv" x="653" y="108"/><use href="#gd" x="653" y="123"/>
<path class="dt" d="M638,27h0M689,27h0M638,80h0M653,65h0M696,65h0"/>
<g class="r"><text x="590" y="63.5">KEY0</text><text x="772" y="63.5">KEY0_in</text><text x="590" y="78.5">IR_SYNC</text><text x="713" y="78.5">IR_in</text></g>
<g class="t"><text x="641" y="45">R609</text><text x="641" y="55">4.7K</text><text x="700" y="40">R611</text><text x="700" y="51">8.2K</text><text x="676" y="63">R614</text><text x="688" y="63">1K</text><text x="630" y="105">C644</text><text x="656" y="105">C646</text></g>
<rect x="674.5" y="88.5" width="41" height="34" fill="none" stroke="#6a6ac8" stroke-width=".7"/>
<text x="677" y="95" font-size="3.3" fill="#d040d0">NB(Internal)IR_Key</text>

<!-- right pins -->
<path class="pn" d="M544,177h11M544,181h11M544,185h11M544,189h11M544,193h11M544,197h11M544,200h11M544,204h11M544,212h11M544,219h11M544,223h11M544,254h11M544,258h11M544,262h11M544,266h11M544,273h11M544,277h11M544,281h11M544,285h11M544,288h11M544,292h11M544,296h11M544,300h11M544,304h11M544,308h11M544,312h11M544,315h11M544,319h11M544,323h11M544,327h11M544,331h11M544,335h11M544,338h11M544,342h11M544,346h11M544,350h11M544,354h11M544,358h11M544,361h11M544,397h11M544,400h11M544,404h11M544,408h11M544,432h11M544,436h11M544,440h11M544,443h11M544,447h11M544,451h11M544,455h11M544,458h11M544,473h11M544,477h11M544,481h11"/>
<g class="t" text-anchor="end"><text x="541" y="178">AS0IDT</text><text x="541" y="182">AS0CK0S</text><text x="541" y="186">AS0WS0</text><text x="541" y="190">D4</text><text x="541" y="194">D3</text><text x="541" y="198">D2</text><text x="541" y="201">D1</text><text x="541" y="205">D0</text><text x="541" y="213">CLK</text><text x="541" y="220">HVSYNC</text><text x="541" y="224">VSYNC</text>
<text x="541" y="255">GPIO20/LVSYNC</text><text x="541" y="259">GPIO21/LHSYNC</text><text x="541" y="263">GPIO22/LDE</text><text x="541" y="267">GPIO23/LCK</text>
<text x="541" y="274">LB0M/R7</text><text x="541" y="278">LB0P/R6</text><text x="541" y="282">LB1M/R5</text><text x="541" y="286">LB1P/R4</text><text x="541" y="289">LB2M/R3</text><text x="541" y="293">LB2P/R2</text><text x="541" y="297">LBCKM/R1</text><text x="541" y="301">LBCKP/R0</text><text x="541" y="305">LB3M/G7</text><text x="541" y="309">LB3P/G6</text><text x="541" y="313">LB4M/G5</text><text x="541" y="316">LB4P/G4</text><text x="541" y="320">LA0M/G3</text><text x="541" y="324">LA0P/G2</text><text x="541" y="328">LA1M/G1</text><text x="541" y="332">LA1P/G0</text><text x="541" y="336">LA2M/B7</text><text x="541" y="339">LA2P/B6</text><text x="541" y="343">LACKM/B5</text><text x="541" y="347">LACKP/B4</text><text x="541" y="351">LA3M/B3</text><text x="541" y="355">LA3P/B2</text><text x="541" y="359">LA4M/B1</text><text x="541" y="362">LA4P/B0</text>
<text x="541" y="398">SDO</text><text x="541" y="401">CSZ</text><text x="541" y="405">SDI</text><text x="541" y="409">SCK</text>
<text x="541" y="433">GPIO19</text><text x="541" y="437">GPIO18</text><text x="541" y="441">GPIO17</text><text x="541" y="444">GPIO16</text><text x="541" y="448">GPIO15</text><text x="541" y="452">GPIO14</text><text x="541" y="456">GPIO13</text><text x="541" y="459">GPIO12</text>
<text x="541" y="474">PWM_SENSE</text><text x="541" y="478">PWM_DIM</text><text x="541" y="482">PWM_FB</text></g>
<text x="492" y="179" font-size="2.6" fill="#888">NC_GPIO11</text>
<text class="n"><tspan x="546" y="176.3">202</tspan><tspan x="546" y="180.3">201</tspan><tspan x="546" y="184.3">200</tspan><tspan x="546" y="188.3">199</tspan><tspan x="546" y="196.3">197</tspan><tspan x="546" y="203.3">195</tspan><tspan x="546" y="211.3">192</tspan><tspan x="546" y="222.3">190</tspan><tspan x="546" y="253.3">184</tspan><tspan x="546" y="261.3">182</tspan><tspan x="546" y="272.3">180</tspan><tspan x="546" y="280.3">178</tspan><tspan x="546" y="287.3">176</tspan><tspan x="546" y="295.3">174</tspan><tspan x="546" y="303.3">172</tspan><tspan x="546" y="311.3">170</tspan><tspan x="546" y="318.3">168</tspan><tspan x="546" y="326.3">166</tspan><tspan x="546" y="334.3">164</tspan><tspan x="546" y="341.3">162</tspan><tspan x="546" y="349.3">160</tspan><tspan x="546" y="357.3">158</tspan><tspan x="546" y="396.3">130</tspan><tspan x="546" y="403.3">128</tspan><tspan x="546" y="431.3">97</tspan><tspan x="546" y="439.3">95</tspan><tspan x="546" y="446.3">93</tspan><tspan x="546" y="454.3">91</tspan><tspan x="546" y="472.3">106</tspan><tspan x="546" y="480.3">108</tspan></text>

<!-- right wires -->
<path class="w" d="M555,177H583M555,181H583M555,185H583M572,177V146M576,181V146M580,185V146M555,189h4M555,193h4M555,197h4M555,200h4M555,204h4M555,212h4M555,219h4M555,223h4
M555,254H590M555,258H590M555,262H590M555,266H583V252H676M653,252V258
M555,397H580M555,400H580M555,404H580M555,408H580M555,432h3M555,436h3M555,440h3M555,443h3M555,447h3M555,451h3M555,455h3M555,458h3M555,473h4M555,477h4M555,481h4"/>
<path class="w" d="M555,273H697M555,277H697M555,281H697M555,285H697M555,288H697M555,292H697M555,296H697M555,300H697M555,304H697M555,308H697M555,312H697M555,315H697M555,319H697M555,323H697M555,327H697M555,331H697M555,335H697M555,338H697M555,342H697M555,346H697M555,350H697M555,354H697M555,358H697M555,361H697"/>
<g fill="none" stroke="#3a3ab0" stroke-width=".5"><path d="M636,273l1.5,-1.2l2,2.4l2,-2.4l2,2.4l2,-2.4l1.5,1.2M636,277l1.5,-1.2l2,2.4l2,-2.4l2,2.4l2,-2.4l1.5,1.2M636,281l1.5,-1.2l2,2.4l2,-2.4l2,2.4l2,-2.4l1.5,1.2M636,285l1.5,-1.2l2,2.4l2,-2.4l2,2.4l2,-2.4l1.5,1.2M636,288l1.5,-1.2l2,2.4l2,-2.4l2,2.4l2,-2.4l1.5,1.2M636,292l1.5,-1.2l2,2.4l2,-2.4l2,2.4l2,-2.4l1.5,1.2M636,296l1.5,-1.2l2,2.4l2,-2.4l2,2.4l2,-2.4l1.5,1.2M636,300l1.5,-1.2l2,2.4l2,-2.4l2,2.4l2,-2.4l1.5,1.2M636,304l1.5,-1.2l2,2.4l2,-2.4l2,2.4l2,-2.4l1.5,1.2M636,308l1.5,-1.2l2,2.4l2,-2.4l2,2.4l2,-2.4l1.5,1.2M636,312l1.5,-1.2l2,2.4l2,-2.4l2,2.4l2,-2.4l1.5,1.2M636,315l1.5,-1.2l2,2.4l2,-2.4l2,2.4l2,-2.4l1.5,1.2M636,319l1.5,-1.2l2,2.4l2,-2.4l2,2.4l2,-2.4l1.5,1.2M636,323l1.5,-1.2l2,2.4l2,-2.4l2,2.4l2,-2.4l1.5,1.2M636,327l1.5,-1.2l2,2.4l2,-2.4l2,2.4l2,-2.4l1.5,1.2M636,331l1.5,-1.2l2,2.4l2,-2.4l2,2.4l2,-2.4l1.5,1.2M636,335l1.5,-1.2l2,2.4l2,-2.4l2,2.4l2,-2.4l1.5,1.2M636,338l1.5,-1.2l2,2.4l2,-2.4l2,2.4l2,-2.4l1.5,1.2M636,342l1.5,-1.2l2,2.4l2,-2.4l2,2.4l2,-2.4l1.5,1.2M636,346l1.5,-1.2l2,2.4l2,-2.4l2,2.4l2,-2.4l1.5,1.2M636,350l1.5,-1.2l2,2.4l2,-2.4l2,2.4l2,-2.4l1.5,1.2M636,354l1.5,-1.2l2,2.4l2,-2.4l2,2.4l2,-2.4l1.5,1.2M636,358l1.5,-1.2l2,2.4l2,-2.4l2,2.4l2,-2.4l1.5,1.2M636,361l1.5,-1.2l2,2.4l2,-2.4l2,2.4l2,-2.4l1.5,1.2"/></g>
<g class="r" font-size="3.3"><text x="590" y="272">RXB0-/DE7</text><text x="590" y="276">RXB0+/DE6</text><text x="590" y="280">RXB1-/DE5</text><text x="590" y="284">RXB1+/DE4</text><text x="590" y="287">RXB2-/DE3</text><text x="590" y="291">RXB2+/DE2</text><text x="590" y="295">RXBC-/DE1</text><text x="590" y="299">RXBC+/DE0</text><text x="590" y="303">RXB3-/DD7</text><text x="590" y="307">RXB3+/DD6</text><text x="590" y="311">RXB4-/DD5</text><text x="590" y="314">RXB4+/DD4</text><text x="590" y="318">RXA0-/DD3</text><text x="590" y="322">RXA0+/DD2</text><text x="590" y="326">RXA1-/DD1</text><text x="590" y="330">RXA1+/DD0</text><text x="590" y="334">RXA2-/DB7</text><text x="590" y="337">RXA2+/DB6</text><text x="590" y="341">RXAC-/DB5</text><text x="590" y="345">RXAC+/DB4</text><text x="590" y="349">RXA3-/DB3</text><text x="590" y="353">RXA3+/DB2</text><text x="590" y="357">RXA4-/DB1</text><text x="590" y="360">RXA4+/DB0</text></g>
<g class="r" font-size="3.3"><text x="672" y="272">RXB0-/DE7</text><text x="672" y="276">RXB0+/DE6</text><text x="672" y="280">RXB1-/DE5</text><text x="672" y="284">RXB1+/DE4</text><text x="672" y="287">RXB2-/DE3</text><text x="672" y="291">RXB2+/DE2</text><text x="672" y="295">RXBC-/DE1</text><text x="672" y="299">RXBC+/DE0</text><text x="672" y="303">RXB3-/DD7</text><text x="672" y="307">RXB3+/DD6</text><text x="672" y="311">RXB4-/DD5</text><text x="672" y="314">RXB4+/DD4</text><text x="672" y="318">RXA0-/DD3</text><text x="672" y="322">RXA0+/DD2</text><text x="672" y="326">RXA1-/DD1</text><text x="672" y="330">RXA1+/DD0</text><text x="672" y="334">RXA2-/DB7</text><text x="672" y="337">RXA2+/DB6</text><text x="672" y="341">RXAC-/DB5</text><text x="672" y="345">RXAC+/DB4</text><text x="672" y="349">RXA3-/DB3</text><text x="672" y="353">RXA3+/DB2</text><text x="672" y="357">RXA4-/DB1</text><text x="672" y="360">RXA4+/DB0</text></g>
<g class="r" font-size="3.3"><text x="706" y="274">RXB0-/DE7 7</text><text x="706" y="278">RXB0+/DE6 7</text><text x="706" y="282">RXB1-/DE5 7</text><text x="706" y="286">RXB1+/DE4 7</text><text x="706" y="289">RXB2-/DE3 7</text><text x="706" y="293">RXB2+/DE2 7</text><text x="706" y="297">RXBC-/DE1 7</text><text x="706" y="301">RXBC+/DE0 7</text><text x="706" y="305">RXB3-/DD7 7</text><text x="706" y="309">RXB3+/DD6 7</text><text x="706" y="313">RXB4-/DD5 7</text><text x="706" y="316">RXB4+/DD4 7</text><text x="706" y="320">RXA0-/DD3 7</text><text x="706" y="324">RXA0+/DD2 7</text><text x="706" y="328">RXA1-/DD1 7</text><text x="706" y="332">RXA1+/DD0 7</text><text x="706" y="336">RXA2-/DB7 7</text><text x="706" y="339">RXA2+/DB6 7</text><text x="706" y="343">RXAC-/DB5 7</text><text x="706" y="347">RXAC+/DB4 7</text><text x="706" y="351">RXA3-/DB3 7</text><text x="706" y="355">RXA3+/DB2 7</text><text x="706" y="359">RXA4-/DB1 7</text><text x="706" y="362">RXA4+/DB0 7</text></g>
<g class="t" font-weight="bold"><text x="738" y="280">RP621</text><text x="738" y="284">33ohm</text><text x="738" y="295">RP622</text><text x="738" y="299">33ohm</text><text x="740" y="311">RP623</text><text x="740" y="315">33ohm</text><text x="739" y="326">RP624</text><text x="739" y="330">33ohm</text><text x="740" y="341">RP625</text><text x="740" y="345">33ohm</text><text x="739" y="353">RP626</text><text x="739" y="357">33ohm</text></g>
<g class="r"><text x="562" y="176">DDSEL0</text><text x="562" y="180">MCLK</text><text x="562" y="184">SEL/SOS</text><text x="585" y="178.5">DDSEL0 7</text><text x="585" y="182.5">MCLK1 7</text><text x="585" y="186.5">SEL/SOS 7</text>
<text x="572" y="253">DE0</text><text x="572" y="257">DE1</text><text x="572" y="261">DEN</text><text x="591" y="255.5">DE0 7</text><text x="591" y="259.5">DE1 7</text><text x="591" y="263.5">DEN 7</text><text x="653" y="251">DCLK</text><text x="680" y="254">DCLK 7</text>
<text x="561" y="396">SPI_DO</text><text x="561" y="399.5">SPI_CS</text><text x="561" y="403">SPI_DI</text><text x="561" y="407">SPI_CK</text></g>
<use href="#rh" x="632" y="252"/><use href="#cv" x="655" y="258"/><use href="#gd" x="648" y="264"/>
<!-- RP613 -->
<text class="k" x="553" y="147">+3.3V</text>
<path class="w" d="M562,146H585M572,146V171M576,146V171M580,146V171"/>
<use href="#rv" x="572" y="152"/><use href="#rv" x="576" y="152"/><use href="#rv" x="580" y="152"/>
<path class="dt" d="M572,146h0M576,146h0M580,146h0M572,177h0M576,181h0M580,185h0"/>
<text class="t" x="587" y="153">RP613</text><text class="t" x="583" y="164">RP4.7K*4</text>

<!-- HDCP -->
<text class="k m" x="755" y="146">HDCP I2C address</text><text class="k m" x="755" y="150">as: A0</text>
<text class="k" x="798" y="150">5Vstb</text><text class="k" x="788" y="158">+3.3V</text><text class="k" x="766" y="157">3.3V/5Vstb</text><text class="k" x="878" y="150">3.3V/5Vstb</text>
<path class="w" d="M800,154H881M790,161H845M758,160H769M758,160V215M769,160V215M758,185H808M769,182H808M758,190H808M769,193H808M835,179H851M835,185H890M835,189H880M835,193H881M851,154V215M881,154V193M890,154V185M881,193H893"/>
<rect x="812" y="151" width="14" height="5" fill="none" stroke="#3a3ab0" stroke-width=".6"/><rect x="812" y="159" width="14" height="4" fill="none" stroke="#3a3ab0" stroke-width=".4"/>
<use href="#rv" x="758" y="165"/><use href="#rv" x="769" y="165"/><use href="#rv" x="758" y="197"/><use href="#rv" x="769" y="197"/><use href="#rv" x="851" y="197"/><use href="#rv" x="881" y="162"/><use href="#rv" x="890" y="162"/><use href="#rv" x="851" y="160"/>
<use href="#cv" x="858" y="160"/><use href="#gd" x="858" y="164"/>
<use href="#gd" x="769" y="216"/><use href="#gd" x="851" y="216"/><use href="#gd" x="792" y="206"/>
<rect x="808.5" y="177.5" width="26.5" height="19" fill="none" stroke="#4c4cc4" stroke-width=".8"/>
<g class="t"><text x="810" y="181">A0</text><text x="810" y="185">A1</text><text x="810" y="189">A2</text><text x="810" y="193">GND</text><text x="826" y="181">VCC</text><text x="827" y="185">WP</text><text x="826" y="189">SCL</text><text x="826" y="193">SDA</text><text x="808" y="176">U601</text><text x="808" y="200">24C02</text>
<text x="761" y="169">R632</text><text x="772" y="169">R635</text><text x="761" y="199">R640</text><text x="772" y="199">R630</text><text x="854" y="201">R670</text><text x="870" y="165">R636</text><text x="893" y="167">R639</text><text x="885" y="179">4.7K</text><text x="898" y="179">4.7K</text><text x="840" y="149">L600</text><text x="861" y="158">C631</text></g>
<g class="r"><text x="846" y="150">FB</text><text x="848" y="162">NC</text><text x="860" y="184">WP</text><text x="870" y="192">SDA</text><text x="894" y="188">SCL</text></g>
<path class="dt" d="M758,160h0M769,160h0M851,154h0M881,154h0M890,154h0M858,154h0M851,185h0M881,193h0M758,190h0M769,193h0"/>

<!-- I2C address 2 -->
<text class="k m" x="772" y="259">I2C address</text><text class="k m" x="772" y="263">as: A0</text>
<text class="k" x="822" y="251">3.3V/5Vstb</text>
<path class="w" d="M826,254V267H880V275M826,267V285M836,267V272M766,282H779M766,285H779M766,289H779M766,292H779M806,284H815V275H890M806,287H840M806,291H890M806,294H890M840,287V280H890M860,270V284H890M766,282V305M817,294V300M830,301H860V310M830,301V320H853"/>
<use href="#rv" x="860" y="272"/><use href="#cv" x="836" y="276"/><use href="#gd" x="836" y="280"/>
<use href="#rh" x="845" y="291"/><use href="#rh" x="845" y="294"/><use href="#rh" x="836" y="301"/>
<use href="#gd" x="768" y="305"/><use href="#gd" x="817" y="304"/><use href="#gd" x="875" y="302"/>
<rect x="779.5" y="279.5" width="26.5" height="19" fill="none" stroke="#4c4cc4" stroke-width=".8"/>
<g class="t"><text x="781" y="283">A0</text><text x="781" y="287">A1</text><text x="781" y="291">A2</text><text x="781" y="295">GND</text><text x="797" y="283">VCC</text><text x="798" y="287">WP</text><text x="797" y="291">SCL</text><text x="797" y="295">SDA</text><text x="779" y="278">U604</text><text x="779" y="302">24C04</text><text x="858" y="269">R683</text><text x="861" y="281">4.7K</text><text x="840" y="277">C632</text><text x="888" y="271">P600</text><text x="885" y="306">CON5</text><text x="849" y="327">CS500F-2P-2.54</text><text x="845" y="323">JP500</text></g>
<rect x="890" y="275" width="8" height="23" fill="none" stroke="#4c4cc4" stroke-width=".8"/>
<rect x="852" y="311" width="6" height="10" fill="none" stroke="#4c4cc4" stroke-width=".7"/>
<path class="dt" d="M826,267h0M860,267h0M836,267h0M840,287h0"/>

<!-- header 6x2 -->
<rect x="777.5" y="341.5" width="30.5" height="49" fill="none" stroke="#4c4cc4" stroke-width=".9"/>
<rect x="804" y="340" width="4" height="4" fill="#2a2ac0"/>
<g fill="#2222c8"><circle cx="788" cy="348" r="1.6"/><circle cx="796" cy="348" r="1.6"/><circle cx="788" cy="356" r="1.6"/><circle cx="796" cy="356" r="1.6"/><circle cx="788" cy="364" r="1.6"/><circle cx="796" cy="364" r="1.6"/><circle cx="788" cy="371" r="1.6"/><circle cx="796" cy="371" r="1.6"/><circle cx="788" cy="379" r="1.6"/><circle cx="796" cy="379" r="1.6"/><circle cx="788" cy="387" r="1.6"/><circle cx="796" cy="387" r="1.6"/></g>
<text x="781" y="397" font-size="3.2" font-weight="bold" fill="#222">HEADER_6x2</text><text class="t" x="776" y="338">XS600</text>
<path class="w" d="M757,348H777M762,356H777M752,364H777M752,371H777M745,378H777M758,386H777M808,348H845M808,353H860V347M808,359H816V397M808,364H816M808,370H893M808,386H893M843,370V398M851,386V398M845,348V345M808,375H815"/>
<use href="#rh" x="826" y="348"/><use href="#rh" x="826" y="353"/><use href="#rh" x="866" y="370"/><use href="#rh" x="866" y="386"/>
<use href="#cv" x="843" y="400"/><use href="#cv" x="851" y="400"/><use href="#gd" x="843" y="407"/><use href="#gd" x="816" y="397"/>
<text class="k" x="838" y="345">5Vstb</text><text class="k" x="856" y="345">+3.3V</text>
<g class="r"><text x="762" y="355">KEY0</text><text x="752" y="370">IR_in</text><text x="748" y="377">LED_R</text><text x="758" y="385">LED_G</text><text x="822" y="370">SDA_OPT</text><text x="822" y="386">SCL_OPT</text><text x="887" y="373">SDA</text><text x="888" y="389">SCL</text></g>
<g class="t"><text x="824" y="346">R608</text><text x="824" y="351">R609 1K/1%</text><text x="862" y="368">R601</text><text x="862" y="384">R602</text><text x="828" y="397">C605</text><text x="855" y="397">C606</text><text x="826" y="402">NC/20pF</text><text x="855" y="402">NC/20pF</text></g>
<path class="dt" d="M843,370h0M851,386h0M816,397h0"/>

<!-- LED transistor circuit -->
<text class="k" x="645" y="394">5Vstb</text>
<path class="w" d="M648,396V405H664V425M648,405V413M589,418H640M590,430H655M648,422V443M663,433V443M648,443H663M648,443V460M663,443V460M663,438H690V429H780M673,434H690V434H780M745,378V445M758,386V438H780M717,410V448M717,448H780M780,429V448"/>
<use href="#rh" x="617" y="418"/><use href="#rh" x="617" y="430"/><use href="#rh" x="707" y="429"/><use href="#rh" x="707" y="434"/>
<path d="M644,414v8M644,418l4,-4M644,418l4,4M659,426v8M659,430l4,-4M659,430l4,4" stroke="#2a2ab0" stroke-width=".7" fill="none"/>
<use href="#rv" x="648" y="448"/><use href="#rv" x="663" y="448"/><use href="#gd" x="648" y="470"/><use href="#gd" x="663" y="470"/>
<use href="#cv" x="738" y="443"/><use href="#cv" x="765" y="446"/><use href="#cv" x="782" y="446"/><use href="#gd" x="753" y="459"/>
<text class="k" x="713" y="410">5Vstb</text>
<g class="r"><text x="589" y="416.5">LED1_RED</text><text x="590" y="429">LED1_GREEN</text></g>
<g class="t"><text x="626" y="416">R628</text><text x="636" y="417">4.7K</text><text x="627" y="428">R626</text><text x="650" y="413">VS01</text><text x="665" y="430">Q602</text><text x="651" y="454">R637</text><text x="666" y="454">R619</text><text x="708" y="427">R6100</text><text x="708" y="438">R6102</text><text x="727" y="441">C608</text><text x="752" y="446">C607</text><text x="773" y="446">C609</text></g>
<path class="dt" d="M648,405h0M648,443h0M663,443h0M745,429h0M758,434h0M717,448h0"/>

<!-- SPI Flash -->
<rect x="706.5" y="497.5" width="26" height="38.5" fill="none" stroke="#4c4cc4" stroke-width=".9"/>
<g class="t"><text x="708" y="505">CE#</text><text x="708" y="514">SO</text><text x="708" y="522">WP#</text><text x="708" y="529">VSS</text><text x="723" y="505">VDD</text><text x="720" y="514">HOLD#</text><text x="723" y="522">SCK</text><text x="726" y="529">SI</text><text x="706" y="496">U602</text><text x="705" y="539">PM25LV010</text><text x="661" y="494">R642</text><text x="661" y="498">3.3K</text><text x="661" y="515">R647</text><text x="648" y="515">C601</text><text x="760" y="509">C614</text><text x="762" y="515">100n</text><text x="766" y="521">RP610 RP4.7K</text><text x="764" y="522">RP604</text></g>
<text class="k" x="752" y="484">+3.3V</text>
<path class="w" d="M685,503H706M685,512H706M685,519H706M685,527H706M732,503H756M732,512H745M732,519H740V531H817M732,527H736V536H817M756,487V516M671,485V495M671,485H757M610,507H680V519M671,505V523M685,503V540H817M685,512V545H817M685,519H680M770,485V523M782,460V532M786,460V536M790,460V541M794,460V545M782,460H797"/>
<use href="#rh" x="640" y="507"/><use href="#rv" x="671" y="490"/><use href="#rv" x="671" y="512"/><use href="#gd" x="671" y="531"/>
<use href="#cv" x="756" y="510"/><use href="#gd" x="756" y="517"/><use href="#ch" x="656" y="517"/>
<path d="M782,464l-1.2,1l2.4,2l-2.4,2l2.4,2l-2.4,2l1.2,1M786,464l-1.2,1l2.4,2l-2.4,2l2.4,2l-2.4,2l1.2,1M790,464l-1.2,1l2.4,2l-2.4,2l2.4,2l-2.4,2l1.2,1M794,464l-1.2,1l2.4,2l-2.4,2l2.4,2l-2.4,2l1.2,1" stroke="#3a3ab0" stroke-width=".5" fill="none"/>
<path d="M765,531l1.5,-1l2,2l2,-2l2,2l2,-2l2,2l1.5,-1M765,536l1.5,-1l2,2l2,-2l2,2l2,-2l2,2l1.5,-1M765,540l1.5,-1l2,2l2,-2l2,2l2,-2l2,2l1.5,-1M765,545l1.5,-1l2,2l2,-2l2,2l2,-2l2,2l1.5,-1" stroke="#3a3ab0" stroke-width=".5" fill="none"/>
<g class="r"><text x="610" y="506">PWM1_WP</text><text x="800" y="530">SPI_DI</text><text x="800" y="535">SPI_CK</text><text x="800" y="539">SPI_DO</text><text x="800" y="544">SPI_CS</text></g>
<path class="dt" d="M671,485h0M756,503h0M671,507h0M782,532h0M786,536h0M790,541h0M794,545h0M782,460h0M786,460h0M790,460h0"/>
<text x="591" y="530" font-size="6.4" fill="#444" class="m">Mstar PULL UP</text>
<text x="591" y="538" font-size="6.4" fill="#444" class="m">SST PULL DOWN</text>

<!-- Mode selection -->
<text x="679" y="562" font-size="5.8" fill="#5a5aa8" class="m">Mode</text>
<text x="679" y="570" font-size="5.8" fill="#5a5aa8" class="m">Selection</text>
<text class="k" x="724" y="566">+3.3V</text>
<path class="w" d="M683,575V629M698,575V629M713,575V629M728,568V634M683,629H728M652,593H728M652,598H683M652,603H698M652,608H713"/>
<use href="#rv" x="683" y="578"/><use href="#rv" x="698" y="578"/><use href="#rv" x="713" y="578"/><use href="#rv" x="728" y="578"/>
<use href="#rv" x="683" y="613"/><use href="#rv" x="698" y="613"/><use href="#rv" x="713" y="613"/><use href="#rv" x="728" y="613"/>
<use href="#gd" x="728" y="634"/>
<g class="t"><text x="682" y="579">R633</text><text x="697" y="579">R634</text><text x="712" y="579">R635</text><text x="727" y="579">R636</text><text x="681" y="613">R650</text><text x="697" y="613">R651</text><text x="712" y="613">R652</text><text x="727" y="613">R653</text><text x="686" y="590">1K</text><text x="700" y="590">NC</text><text x="715" y="590">NC</text><text x="730" y="590">1K</text><text x="686" y="623">NC</text><text x="700" y="623">1K</text><text x="715" y="623">1K</text><text x="730" y="623">NC</text></g>
<g class="r"><text x="652" y="592">ADJ PWM0</text><text x="652" y="597">PWM0</text><text x="652" y="602">PWM1_WP</text><text x="652" y="607">PWM3</text></g>
<path class="dt" d="M683,593h0M698,603h0M713,608h0M728,593h0M683,629h0M698,629h0M713,629h0M683,598h0"/>

<!-- bottom pins -->
<path class="pn" d="M262,500V512M266,500V512M270,500V512M273,500V512M277,500V512M281,500V512M285,500V512M289,500V512M293,500V512M296,500V512M300,500V512M304,500V512M308,500V512M313,500V512M343,500V512M358,500V512M362,500V512M366,500V512M370,500V512M374,500V512M378,500V512M382,500V512M386,500V512M390,500V512M394,500V512M398,500V512M402,500V512M406,500V512M410,500V512M414,500V512M418,500V512M424,500V512M428,500V512M432,500V512M436,500V512M440,500V512M444,500V512M448,500V512M452,500V512M456,500V512M460,500V512M464,500V512M466,500V512M470,500V512M474,500V512"/>
<g class="t">
<text transform="translate(263,489) rotate(90)">GPIO0</text><text transform="translate(267,489) rotate(90)">GPIO1</text><text transform="translate(271,489) rotate(90)">GPIO2</text><text transform="translate(274,489) rotate(90)">GPIO3</text><text transform="translate(278,491) rotate(90)">PWM0</text><text transform="translate(282,491) rotate(90)">PWM1</text><text transform="translate(286,491) rotate(90)">PWM2</text><text transform="translate(290,491) rotate(90)">PWM3</text><text transform="translate(294,491) rotate(90)">SAR0</text><text transform="translate(297,491) rotate(90)">SAR1</text><text transform="translate(301,491) rotate(90)">SAR2</text><text transform="translate(305,491) rotate(90)">SAR3</text><text transform="translate(314,491) rotate(90)">IRIN</text><text transform="translate(344,485) rotate(90)">GND_EFUSE</text>
<text transform="translate(359,489) rotate(90)">GND</text><text transform="translate(363,489) rotate(90)">GND</text><text transform="translate(367,489) rotate(90)">GND</text><text transform="translate(371,489) rotate(90)">GND</text><text transform="translate(375,489) rotate(90)">GND</text><text transform="translate(379,489) rotate(90)">GND</text><text transform="translate(383,489) rotate(90)">GND</text><text transform="translate(387,489) rotate(90)">GND</text><text transform="translate(391,489) rotate(90)">GND</text><text transform="translate(395,489) rotate(90)">GND</text><text transform="translate(399,489) rotate(90)">GND</text><text transform="translate(403,489) rotate(90)">GND</text><text transform="translate(407,489) rotate(90)">GND</text><text transform="translate(411,489) rotate(90)">GND</text><text transform="translate(415,489) rotate(90)">GND</text><text transform="translate(419,489) rotate(90)">GND</text>
<text transform="translate(425,487) rotate(90)">GPIO4</text><text transform="translate(429,487) rotate(90)">GPIO5</text><text transform="translate(433,487) rotate(90)">GPIO6</text><text transform="translate(437,487) rotate(90)">GPIO7</text><text transform="translate(441,487) rotate(90)">GPIO8</text><text transform="translate(445,487) rotate(90)">GPIO9</text><text transform="translate(449,487) rotate(90)">GPIO10</text><text transform="translate(453,489) rotate(90)">INT</text><text transform="translate(457,489) rotate(90)">SDA</text><text transform="translate(461,489) rotate(90)">SCL</text><text transform="translate(465,491) rotate(90)">MO</text><text transform="translate(469,491) rotate(90)">M1</text><text transform="translate(473,491) rotate(90)">M2</text></g>
<!-- bottom wires -->
<path class="w" d="M262,512V541H176M266,512V545H176M270,512V549H176M273,512V552H176M277,512V556H230M281,512V560H230M289,512V562H262M293,512V593H325M297,512V585H325M300,512V578H335M305,512V570H340M308,512V520M313,512V530M313,540V548M343,512V520H418M358,512V520M362,512V520M366,512V520M370,512V520M374,512V520M378,512V520M382,512V520M386,512V520M390,512V520M394,512V520M398,512V520M402,512V520M406,512V520M410,512V520M414,512V520M390,520V523
M428,512V593H565M432,512V588H565M436,512V582H565M440,512V578H565M444,512V574H565M448,512V569H520M452,512V565H565M456,512V561H565M460,512V557H565M464,512V553H565M466,512V549H470M474,512V518"/>
<path d="M310,534h6l-3,4zM310,538h6M310,530h6l-3,4z" fill="#2a2ac0" stroke="#2a2ac0" stroke-width=".4"/>
<use href="#gd" x="313" y="545"/><use href="#gd" x="390" y="523"/>
<path class="dt" d="M358,520h0M362,520h0M366,520h0M370,520h0M374,520h0M378,520h0M382,520h0M386,520h0M390,520h0M394,520h0M398,520h0M402,520h0M406,520h0M410,520h0M414,520h0M418,520h0M313,521h0M466,569h0M470,565h0M474,561h0M478,557h0"/>
<g class="r"><text x="316" y="520">IR_VSEL</text><text x="312" y="584">PWM0_WP</text><text x="312" y="592">PWM0</text><text x="314" y="569">ADJ PWM1</text><text x="341" y="571.5">ADJ PWM1 1</text><text x="312" y="577">PWM2</text>
<text x="466" y="552">MCU_CHE</text><text x="456" y="556">POWER_ON/OFF</text><text x="458" y="560">FW_EN</text><text x="482" y="565">HPDCTRL</text><text x="478" y="572">SYS_SEL1</text><text x="486" y="577">PV_PANEL</text><text x="478" y="583">SYS_SEL2</text><text x="476" y="592">INT</text>
<text x="545" y="555">POWER_ON/OFF 1,3,6</text><text x="545" y="559">PW_ON 1</text><text x="545" y="563">HPDCTRL 3</text><text x="545" y="576">SYS_SEL1 4</text><text x="545" y="580">SCN_PANEL 1</text><text x="545" y="584">SYS_SEL2 4</text></g>
<text class="t" x="317" y="526">D600</text><text class="t" x="318" y="537">INFRO_VPORT</text>
<!-- RP601 / RP600 -->
<text class="k" x="507" y="513">+3.3V</text><text class="t" x="527" y="516">RP601</text><text class="t" x="527" y="520">RPA7K64</text><text class="t" x="455" y="535">RP600</text><text class="t" x="455" y="539">RPA.7K0</text>
<path class="w" d="M489,522H517M509,516V522M490,522V531M494,522V531M498,522V531M502,522V531M506,522V531M510,522V531M514,522V531M517,522V531M490,545V584M494,545V580M498,545V575M502,545V571M506,545V567M510,545V563M514,545V559M517,545V555"/>
<path d="M490,532l-1.2,1l2.4,2l-2.4,2l2.4,2l-2.4,2l1.2,1M494,532l-1.2,1l2.4,2l-2.4,2l2.4,2l-2.4,2l1.2,1M498,532l-1.2,1l2.4,2l-2.4,2l2.4,2l-2.4,2l1.2,1M502,532l-1.2,1l2.4,2l-2.4,2l2.4,2l-2.4,2l1.2,1M506,532l-1.2,1l2.4,2l-2.4,2l2.4,2l-2.4,2l1.2,1M510,532l-1.2,1l2.4,2l-2.4,2l2.4,2l-2.4,2l1.2,1M514,532l-1.2,1l2.4,2l-2.4,2l2.4,2l-2.4,2l1.2,1M517,532l-1.2,1l2.4,2l-2.4,2l2.4,2l-2.4,2l1.2,1" stroke="#3a3ab0" stroke-width=".5" fill="none"/>
<path class="dt" d="M490,584h0M494,580h0M498,575h0M502,571h0M506,567h0M510,563h0M514,559h0M490,522h0M509,522h0"/>
<path d="M509,514m-1,0a1,1 0 1,0 2,0a1,1 0 1,0 -2,0" fill="none" stroke="#d24a6a" stroke-width=".5"/>

<!-- title block -->
<g fill="none" stroke="#222" stroke-width=".8">
<rect x="772.5" y="610.5" width="138" height="35"/>
<path d="M772,618.5H911M772,630H911M772,641.5H911M783.5,630V641.5M899.5,630V641.5"/>
</g>
<g font-size="3" fill="#222"><text x="773" y="621.5">Title</text><text x="791" y="626" font-weight="bold">MST6E18 06</text><text x="773" y="633">Size</text><text x="773" y="637">A4</text><text x="786" y="633">Document Number</text><text x="788" y="637">PRS623</text><text x="900" y="633">Rev</text><text x="900" y="637">0</text><text x="773" y="645">Date:</text><text x="789" y="645">Friday, May 09, 2008</text><text x="849" y="645">Sheet</text><text x="867" y="645">02</text><text x="880" y="645">of</text><text x="892" y="645">10</text></g>

<!-- footer -->
<text x="14" y="664" font-size="8.5" fill="#222" font-family="'Liberation Mono','Noto Sans CJK SC',monospace" textLength="172" lengthAdjust="spacingAndGlyphs">PDF 文件以 "PDF 制作工厂" 试用版创建</text>
<text x="201" y="663" font-size="8" fill="#444" font-family="'Liberation Mono',monospace" textLength="24" lengthAdjust="spacingAndGlyphs" text-decoration="underline">ÿÿÿÿÿ</text>
<path d="M201,666.5H316" stroke="#8888ee" stroke-width="1"/>
</svg>
</body></html>
